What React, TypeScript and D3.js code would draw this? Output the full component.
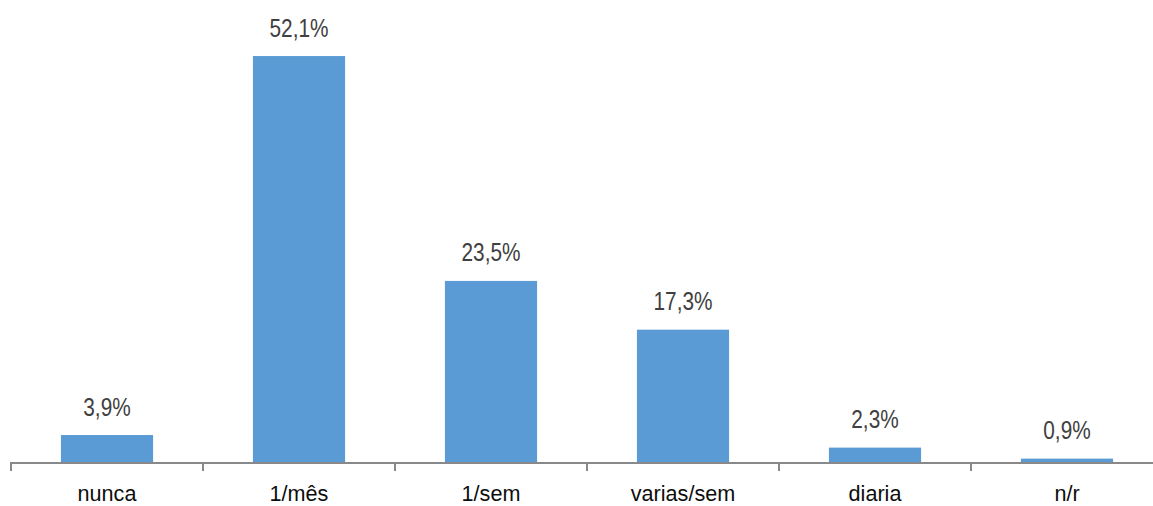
import React from "react";
import * as d3 from "d3";

const categories = ["nunca", "1/mês", "1/sem", "varias/sem", "diaria", "n/r"];
const values = [3.9, 52.1, 23.5, 17.3, 2.3, 0.9];

const W = 1153;
const H = 506;
const axisY = 462;
const font = "'Liberation Sans', Arial, sans-serif";

export default function App() {
  const x = d3.scaleBand<string>().domain(categories).range([11, 11 + 192 * categories.length]).padding(0);
  // value scale: zero sits just under the axis line, which covers the bar feet
  const y = d3.scaleLinear().domain([0, 60]).range([465.7, 465.7 - 7.863 * 60]);
  const bw = x.bandwidth();
  const barW = bw * 0.48;
  const fmt = (v: number) => v.toFixed(1).replace(".", ",") + "%";
  const tickXs = categories.map((c) => x(c)!);

  return (
    <svg width={W} height={H} style={{ position: "absolute", left: 0, top: 0, background: "#fff" }}>
      {categories.map((c, i) => {
        const cx = x(c)! + bw / 2;
        const top = y(values[i]);
        return (
          <g key={c}>
            <rect x={cx - barW / 2} y={top} width={barW} height={axisY - top} fill="#5B9BD5" />
            <text
              transform={`translate(${cx},${top - 19.5}) scale(0.8,1)`}
              textAnchor="middle"
              fontFamily={font}
              fontSize={26}
              fill="#404040"
            >
              {fmt(values[i])}
            </text>
            <text
              transform={`translate(${cx},501) scale(0.96,1)`}
              textAnchor="middle"
              fontFamily={font}
              fontSize={22.5}
              fill="#0d0d0d"
            >
              {c}
            </text>
          </g>
        );
      })}
      <line x1={11} x2={W} y1={axisY + 1} y2={axisY + 1} stroke="#898989" strokeWidth={2} />
      {tickXs.map((tx, i) => (
        <line key={i} x1={tx} x2={tx} y1={axisY} y2={axisY + 9} stroke="#898989" strokeWidth={2} />
      ))}
    </svg>
  );
}
